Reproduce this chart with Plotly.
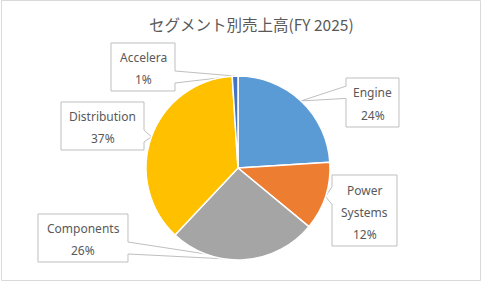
import math
import plotly.graph_objects as go

# ---- data ----
labels = ["Engine", "Power Systems", "Components", "Distribution", "Accelera"]
label_lines = [["Engine"], ["Power", "Systems"], ["Components"], ["Distribution"], ["Accelera"]]
values = [24, 12, 26, 37, 1]
colors = ["#5B9BD5", "#ED7D31", "#A5A5A5", "#FFC000", "#4472C4"]
title = "セグメント別売上高(FY 2025)"

# ---- layout constants (pixels, origin top-left) ----
W, H = 481, 281
CX, CY, R = 238, 168, 92
boxes = [(346, 78, 399, 127), (332, 175, 397, 246), (38, 214, 128, 262),
         (61, 102, 144, 150), (111, 43, 175, 91)]
TEXT = "#595959"
FONT = "Noto Sans"
LINE_GAP = 22


def px(x):
    return x / W


def py(y):
    return 1 - y / H


fig = go.Figure(go.Pie(
    labels=labels, values=values, sort=False, direction="clockwise", rotation=0,
    marker=dict(colors=colors, line=dict(color="white", width=1.5)),
    textinfo="none", hoverinfo="label+percent", showlegend=False,
    domain=dict(x=[px(CX - R), px(CX + R)], y=[py(CY + R), py(CY - R)]),
))

total = sum(values)
shapes = []
annotations = []
cum = 0
for lab_lines, v, box in zip(label_lines, values, boxes):
    mid = (cum + v / 2) / total
    cum += v
    th = 2 * math.pi * mid
    tx, ty = CX + R * math.sin(th), CY - R * math.cos(th)
    x0, y0, x1, y1 = box
    w, h = x1 - x0, y1 - y0
    bcx, bcy = (x0 + x1) / 2, (y0 + y1) / 2
    dx, dy = tx - bcx, ty - bcy
    dq = dx * h / w
    xg = (7, 10) if dx > 0 else (2, 5)
    yg = (7, 10) if dy > 0 else (2, 5)
    pts = [(x0, y0)]
    vertical = abs(dy) > abs(dq)
    if vertical and dy < 0:
        pts += [(x0 + w * xg[0] / 12, y0), (tx, ty), (x0 + w * xg[1] / 12, y0)]
    pts.append((x1, y0))
    if not vertical and dx > 0:
        pts += [(x1, y0 + h * yg[0] / 12), (tx, ty), (x1, y0 + h * yg[1] / 12)]
    pts.append((x1, y1))
    if vertical and dy > 0:
        pts += [(x0 + w * xg[1] / 12, y1), (tx, ty), (x0 + w * xg[0] / 12, y1)]
    pts.append((x0, y1))
    if not vertical and dx < 0:
        pts += [(x0, y0 + h * yg[1] / 12), (tx, ty), (x0, y0 + h * yg[0] / 12)]
    path = "M " + " L ".join(f"{px(a):.5f},{py(b):.5f}" for a, b in pts) + " Z"
    shapes.append(dict(type="path", path=path, xref="paper", yref="paper",
                       fillcolor="white", line=dict(color="#BFBFBF", width=1),
                       layer="below"))
    lines = lab_lines + [f"{round(v / total * 100)}%"]
    n = len(lines)
    for i, t in enumerate(lines):
        yy = bcy + (i - (n - 1) / 2) * LINE_GAP + 1.5
        annotations.append(dict(text=t, x=px(bcx), y=py(yy), xref="paper", yref="paper",
                                showarrow=False, xanchor="center", yanchor="middle",
                                font=dict(family=FONT, size=12, color=TEXT)))

annotations.append(dict(text=title, x=px(251), y=py(24), xref="paper", yref="paper",
                        showarrow=False, xanchor="center", yanchor="middle",
                        font=dict(family="Noto Sans CJK JP", size=15.5, color=TEXT)))

shapes.append(dict(type="rect", xref="paper", yref="paper",
                   x0=px(1.5), x1=px(W - 0.5), y0=py(H - 0.5), y1=py(0.5),
                   line=dict(color="#D9D9D9", width=1), layer="below"))

fig.update_layout(width=W, height=H, margin=dict(l=0, r=0, t=0, b=0),
                  paper_bgcolor="white", plot_bgcolor="white",
                  shapes=shapes, annotations=annotations)
fig.write_html("out.html")
